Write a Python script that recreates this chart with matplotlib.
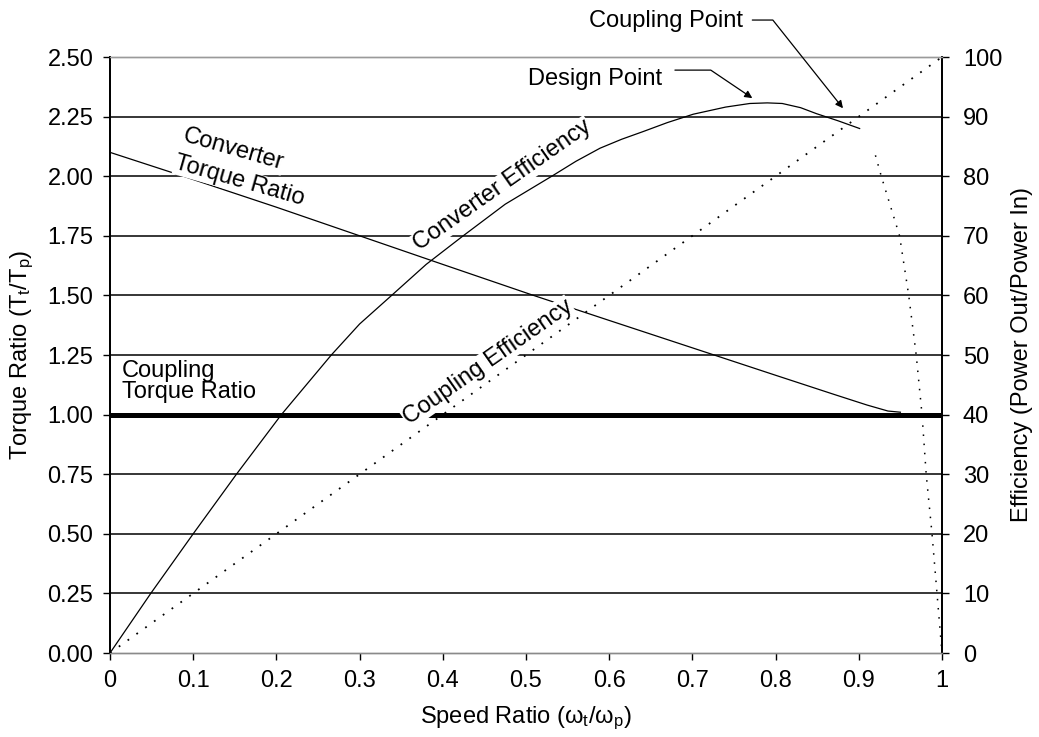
import matplotlib
matplotlib.use("Agg")
import matplotlib.pyplot as plt

plt.rcParams['font.family'] = ['Liberation Sans', 'DejaVu Sans']
plt.rcParams['mathtext.fontset'] = 'custom'
plt.rcParams['mathtext.rm'] = 'Liberation Sans'
plt.rcParams['mathtext.it'] = 'Liberation Sans'

# Converter torque ratio vs speed ratio
conv_tr_x = [0.0, 0.088, 0.2, 0.30, 0.4, 0.509, 0.6, 0.7, 0.8, 0.87, 0.91, 0.935, 0.95]
conv_tr_y = [2.10, 2.00, 1.87, 1.75, 1.63, 1.50, 1.395, 1.28, 1.165, 1.085, 1.04, 1.015, 1.01]

# Coupling torque ratio (constant)
coup_tr_x = [0.0, 1.0]
coup_tr_y = [1.0, 1.0]

# Converter efficiency (%)
conv_eff_x = [0.0, 0.049, 0.100, 0.152, 0.206, 0.266, 0.30, 0.3385, 0.38, 0.4245,
              0.475, 0.531, 0.56, 0.589, 0.615, 0.641, 0.67, 0.701, 0.74, 0.769,
              0.79, 0.808, 0.83, 0.849, 0.875, 0.901]
conv_eff_y = [0.0, 10.0, 20.0, 30.0, 40.0, 50.0, 55.2, 60.0, 65.2, 70.0,
              75.3, 80.0, 82.5, 84.7, 86.2, 87.5, 89.0, 90.4, 91.6, 92.2,
              92.3, 92.2, 91.5, 90.5, 89.3, 88.0]

# Coupling efficiency (%): rising branch and fall-off branch
coup_eff_x = [0.0, 1.0]
coup_eff_y = [0.0, 100.0]
coup_drop_x = [0.92, 0.927, 0.949, 0.960, 0.969, 0.976, 0.981, 0.988, 0.994, 1.0]
coup_drop_y = [83.5, 80.0, 70.0, 60.0, 50.0, 40.0, 30.0, 20.0, 10.0, 0.0]

x_ticks = [0, 0.1, 0.2, 0.3, 0.4, 0.5, 0.6, 0.7, 0.8, 0.9, 1.0]
x_tick_labels = ['0', '0.1', '0.2', '0.3', '0.4', '0.5', '0.6', '0.7', '0.8', '0.9', '1']
torque_ticks = [0.0, 0.25, 0.5, 0.75, 1.0, 1.25, 1.5, 1.75, 2.0, 2.25, 2.5]
eff_ticks = [0, 10, 20, 30, 40, 50, 60, 70, 80, 90, 100]

fig = plt.figure(figsize=(10.39, 7.37), dpi=100)
ax = fig.add_axes([110 / 1039, 1 - 653 / 737, 832 / 1039, 596 / 737])
ax2 = ax.twinx()

FS = 17
label_box = dict(facecolor='white', edgecolor='none', pad=0.5)

ax.set_xlim(0, 1)
ax.set_ylim(0, 2.5)
ax2.set_ylim(0, 100)

# horizontal grid lines
for t in torque_ticks[1:-1]:
    ax.axhline(t, color='black', lw=1.1, zorder=1)

ax.plot(conv_tr_x, conv_tr_y, color='black', lw=0.9, zorder=3)
ax.plot(coup_tr_x, coup_tr_y, color='black', lw=3.6, zorder=3, solid_capstyle='butt')

ax2.plot(conv_eff_x, conv_eff_y, color='black', lw=0.9, zorder=3)
ax2.plot(coup_eff_x, coup_eff_y, color='black', lw=1.3, linestyle=(0, (1, 5)), zorder=3)
ax2.plot(coup_drop_x, coup_drop_y, color='black', lw=1.1, linestyle=(0, (1, 5)), zorder=3)

ax.set_xticks(x_ticks)
ax.set_xticklabels(x_tick_labels)
ax.set_yticks(torque_ticks)
ax.set_yticklabels([f'{t:.2f}' for t in torque_ticks])
ax2.set_yticks(eff_ticks)
ax2.set_yticklabels([str(t) for t in eff_ticks])

for a in (ax, ax2):
    a.tick_params(direction='out', length=5, width=1, labelsize=FS, color='black')
ax.tick_params(axis='x', pad=7.5)
ax.tick_params(axis='y', pad=7)
ax2.tick_params(axis='y', pad=10)

for a in (ax, ax2):
    a.spines['top'].set_color('#9a9a9a')
    a.spines['top'].set_linewidth(1.0)
    a.spines['bottom'].set_color('#8a8a8a')
    a.spines['bottom'].set_linewidth(1.0)
    a.spines['left'].set_linewidth(1.3)
    a.spines['right'].set_linewidth(1.3)

ax.set_xlabel(r'Speed Ratio ($\omega_t$/$\omega_p$)', fontsize=FS)
ax.set_ylabel(r'Torque Ratio (T$_t$/T$_p$)', fontsize=FS)
ax2.set_ylabel('Efficiency (Power Out/Power In)', fontsize=FS)
ax.xaxis.set_label_coords(0.5, -0.109)
ax.yaxis.set_label_coords(-0.106, 0.5)
ax2.yaxis.set_label_coords(1.096, 0.5)
ax.xaxis.label.set_va('center')
ax.yaxis.label.set_va('center')
ax2.yaxis.label.set_va('center')

# curve labels
ax.text(0.148, 2.110, 'Converter', fontsize=FS, rotation=-16,
        ha='center', va='center', rotation_mode='anchor', bbox=label_box, zorder=4)
ax.text(0.156, 1.980, 'Torque Ratio', fontsize=FS, rotation=-16,
        ha='center', va='center', rotation_mode='anchor', bbox=label_box, zorder=4)
ax.text(0.014, 1.23, 'Coupling\nTorque Ratio', fontsize=FS, ha='left', va='top',
        linespacing=0.95)
ax2.text(0.472, 78.4, 'Converter Efficiency', fontsize=FS, rotation=35,
         ha='center', va='center', rotation_mode='anchor', bbox=label_box)
ax2.text(0.454, 48.8, 'Coupling Efficiency', fontsize=FS, rotation=35,
         ha='center', va='center', rotation_mode='anchor', bbox=label_box)

# callouts
ax2.text(0.664, 96.3, 'Design Point', fontsize=FS, ha='right', va='center', zorder=5)
ax2.annotate('', xy=(0.772, 93.1), xytext=(0.679, 97.8),
             arrowprops=dict(arrowstyle='-|>', color='black', lw=0.9, mutation_scale=11,
                             shrinkA=0, shrinkB=0,
                             connectionstyle='angle,angleA=0,angleB=146,rad=0'),
             annotation_clip=False)
ax2.text(0.761, 106.0, 'Coupling Point', fontsize=FS, ha='right', va='center',
         clip_on=False)
ax2.annotate('', xy=(0.881, 91.4), xytext=(0.772, 106.2),
             arrowprops=dict(arrowstyle='-|>', color='black', lw=0.9, mutation_scale=11,
                             shrinkA=0, shrinkB=0,
                             connectionstyle='angle,angleA=0,angleB=128.5,rad=0'),
             annotation_clip=False)

fig.savefig('out.png', dpi=100, facecolor='white')
